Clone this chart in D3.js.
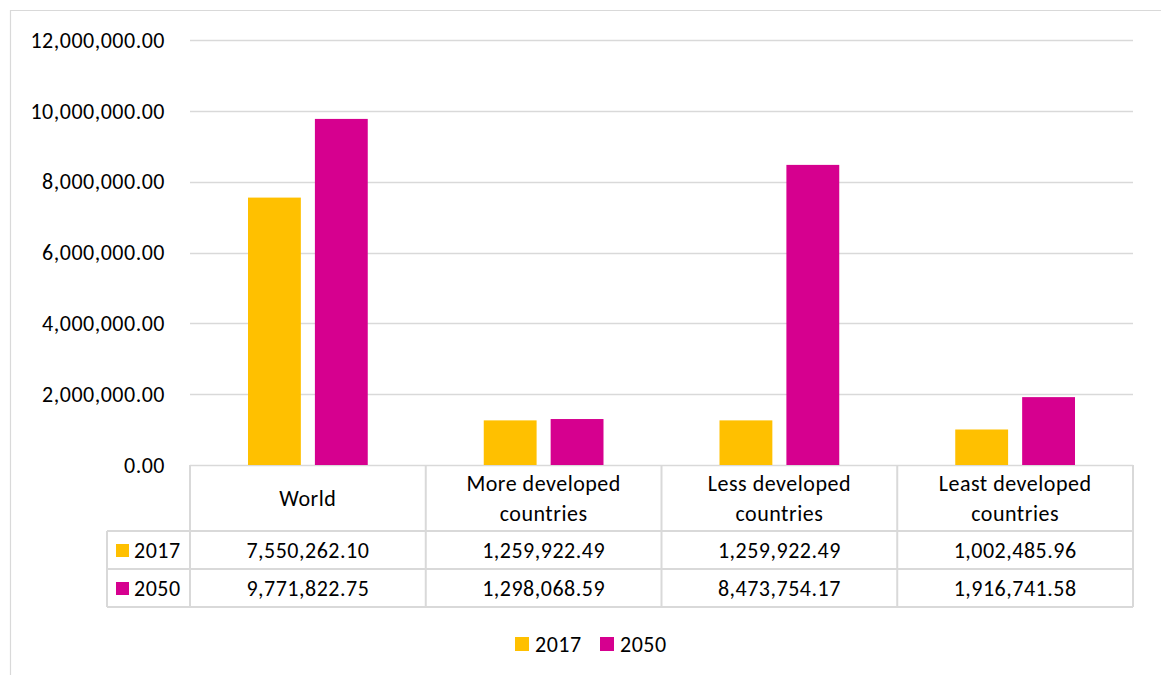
<!DOCTYPE html>
<html>
<head>
<meta charset="utf-8">
<script src="https://cdn.jsdelivr.net/npm/d3@7"></script>
<style>
  html, body { margin: 0; padding: 0; background: #fff; }
  svg { display: block; font-family: Carlito, Lato, "Open Sans", sans-serif; letter-spacing: 0.5px; }
</style>
</head>
<body>
<svg id="chart" width="1161" height="675"></svg>
<script>
// Population by development group (thousands), 2017 vs 2050
const categories = [["World"], ["More developed", "countries"], ["Less developed", "countries"], ["Least developed", "countries"]];
const seriesNames = ["2017", "2050"];
const values2017 = [7550262.10, 1259922.49, 1259922.49, 1002485.96];
const values2050 = [9771822.75, 1298068.59, 8473754.17, 1916741.58];
const yTicks = [0, 2000000, 4000000, 6000000, 8000000, 10000000, 12000000];
const colors = ["#FFC000", "#D6008F"];

const series = [values2017, values2050];
const svg = d3.select("#chart");
const gridColor = "#d9d9d9";
const textColor = "#000";
const fontSize = 22;

// outer frame
svg.append("path")
  .attr("d", "M10.5,675 L10.5,10.5 L1161,10.5")
  .attr("fill", "none").attr("stroke", gridColor).attr("stroke-width", 1.2);

const plotLeft = 190, plotRight = 1133, plotTop = 40, plotBottom = 465;

const x = d3.scaleBand().domain(d3.range(categories.length)).range([plotLeft, plotRight]);
const x1 = d3.scaleBand().domain(d3.range(seriesNames.length))
  .range([58, x.bandwidth() - 58]).paddingInner(0.21);
const y = d3.scaleLinear().domain([0, 12000000]).range([plotBottom, plotTop]);

const fmt = d3.format(",.2f");

// gridlines
svg.append("g").selectAll("line").data(yTicks).join("line")
  .attr("x1", plotLeft).attr("x2", plotRight)
  .attr("y1", d => Math.round(y(d)) + 0.5).attr("y2", d => Math.round(y(d)) + 0.5)
  .attr("stroke", gridColor).attr("stroke-width", 1.3);

// y tick labels
svg.append("g").selectAll("text").data(yTicks).join("text")
  .attr("x", 165).attr("y", d => y(d)).attr("dy", "0.35em")
  .attr("text-anchor", "end").attr("font-size", fontSize).attr("fill", textColor)
  .text(d => fmt(d));

// bars
const groups = svg.append("g").selectAll("g").data(categories).join("g")
  .attr("transform", (d, i) => `translate(${x(i)},0)`);
groups.selectAll("rect").data((d, i) => series.map((s, k) => ({ k, v: s[i] }))).join("rect")
  .attr("x", d => x1(d.k)).attr("width", x1.bandwidth())
  .attr("y", d => y(d.v)).attr("height", d => y(0) - y(d.v))
  .attr("fill", d => colors[d.k]);

// data table below the axis
const headerBottom = 531, rowH = 38, keyLeft = 107;
const rowTops = [headerBottom, headerBottom + rowH];
const tableBottom = headerBottom + rowH * 2;
const t = svg.append("g").attr("stroke", gridColor).attr("stroke-width", 2).attr("fill", "none");
// vertical lines
x.domain().forEach(i => {
  t.append("line").attr("x1", x(i)).attr("x2", x(i)).attr("y1", plotBottom).attr("y2", tableBottom);
});
t.append("line").attr("x1", plotRight).attr("x2", plotRight).attr("y1", plotBottom).attr("y2", tableBottom);
t.append("line").attr("x1", keyLeft).attr("x2", keyLeft).attr("y1", headerBottom).attr("y2", tableBottom);
// horizontal lines
[headerBottom, headerBottom + rowH, tableBottom].forEach(yy => {
  t.append("line").attr("x1", keyLeft).attr("x2", plotRight).attr("y1", yy).attr("y2", yy);
});

// header labels
categories.forEach((lines, i) => {
  const cx = x(i) + x.bandwidth() / 2;
  const mid = (plotBottom + headerBottom) / 2;
  const lh = 30;
  const start = mid - (lines.length - 1) * lh / 2;
  lines.forEach((ln, j) => {
    svg.append("text").attr("x", cx).attr("y", start + j * lh).attr("dy", "0.35em")
      .attr("text-anchor", "middle").attr("font-size", fontSize).attr("fill", textColor).text(ln);
  });
});

// rows
series.forEach((s, k) => {
  const cy = rowTops[k] + rowH / 2;
  svg.append("rect").attr("x", 116).attr("y", cy - 6).attr("width", 13).attr("height", 13).attr("fill", colors[k]);
  svg.append("text").attr("x", 134).attr("y", cy).attr("dy", "0.35em")
    .attr("font-size", fontSize).attr("fill", textColor).text(seriesNames[k]);
  s.forEach((v, i) => {
    svg.append("text").attr("x", x(i) + x.bandwidth() / 2).attr("y", cy).attr("dy", "0.35em")
      .attr("text-anchor", "middle").attr("font-size", fontSize).attr("fill", textColor).text(fmt(v));
  });
});

// legend
const legend = svg.append("g").attr("transform", "translate(515,644)");
const legendX = [0, 85];
seriesNames.forEach((n, k) => {
  legend.append("rect").attr("x", legendX[k]).attr("y", -7).attr("width", 14).attr("height", 14).attr("fill", colors[k]);
  legend.append("text").attr("x", legendX[k] + 20).attr("y", 0).attr("dy", "0.35em")
    .attr("font-size", fontSize).attr("fill", textColor).text(n);
});
</script>
</body>
</html>
